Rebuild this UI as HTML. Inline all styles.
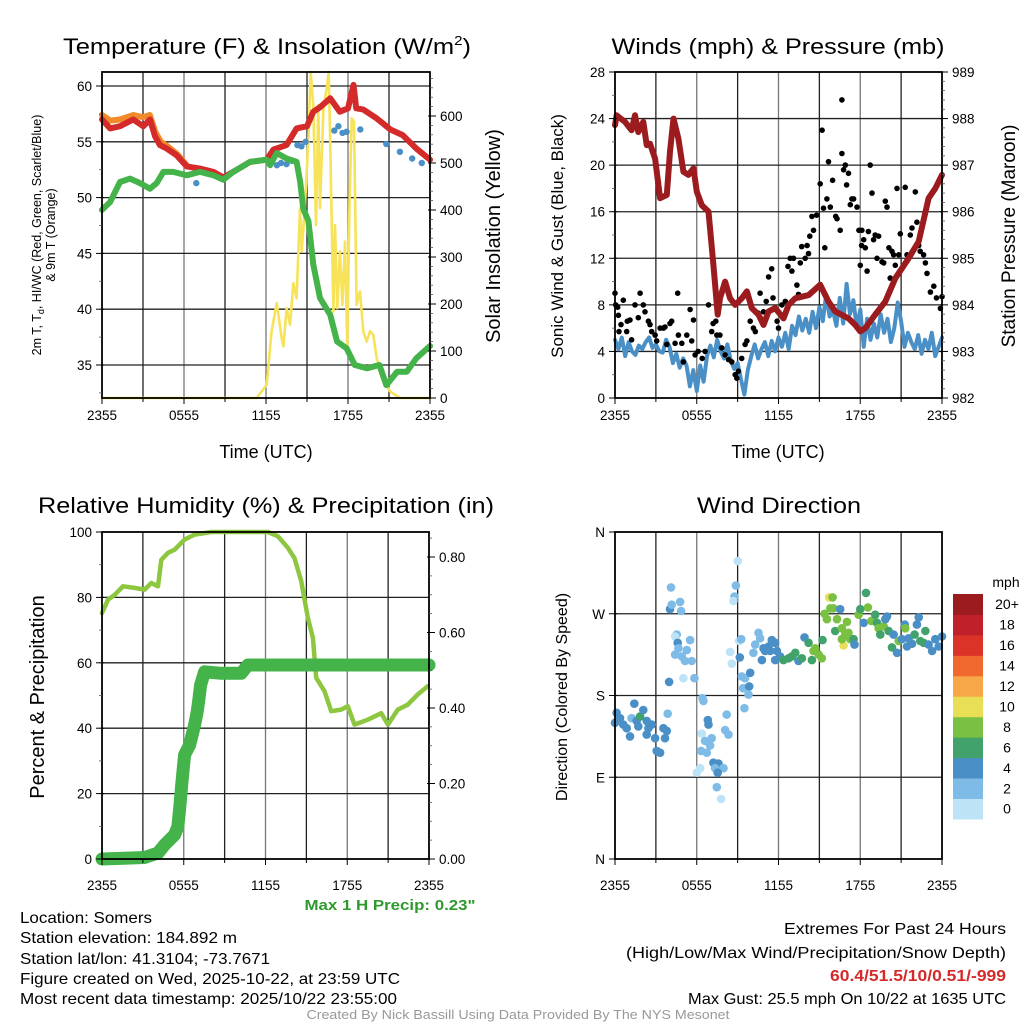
<!DOCTYPE html>
<html><head><meta charset="utf-8"><style>
html,body{margin:0;padding:0;background:#fff;width:1024px;height:1024px;overflow:hidden}
svg{display:block;font-family:"Liberation Sans",sans-serif}
</style></head><body>
<svg id="fig" width="1024" height="1024" viewBox="0 0 1024 1024">
<text x="267" y="54" font-size="22" text-anchor="middle" textLength="408" lengthAdjust="spacingAndGlyphs">Temperature (F) &amp; Insolation (W/m<tspan font-size="13" dy="-9">2</tspan><tspan dy="9">)</tspan></text>
<text x="778" y="54" font-size="22" text-anchor="middle" textLength="333" lengthAdjust="spacingAndGlyphs">Winds (mph) &amp; Pressure (mb)</text>
<text x="266" y="513" font-size="22" text-anchor="middle" textLength="456" lengthAdjust="spacingAndGlyphs">Relative Humidity (%) &amp; Precipitation (in)</text>
<text x="779" y="513" font-size="22" text-anchor="middle" textLength="164" lengthAdjust="spacingAndGlyphs">Wind Direction</text>

<text x="266" y="458" font-size="18" text-anchor="middle">Time (UTC)</text>
<text x="778" y="458" font-size="18" text-anchor="middle">Time (UTC)</text>

<g transform="translate(41,235) rotate(-90)"><text x="0" y="0" font-size="12.5" text-anchor="middle">2m T, T<tspan font-size="9" dy="3">d</tspan><tspan dy="-3">, HI/WC (Red, Green, Scarlet/Blue)</tspan></text><text x="0" y="14" font-size="12.5" text-anchor="middle">&amp; 9m T (Orange)</text></g>
<text transform="translate(500,236) rotate(-90)" font-size="20" text-anchor="middle">Solar Insolation (Yellow)</text>
<text transform="translate(563,236) rotate(-90)" font-size="17" text-anchor="middle">Sonic Wind &amp; Gust (Blue, Black)</text>
<text transform="translate(1015,236) rotate(-90)" font-size="19" text-anchor="middle">Station Pressure (Maroon)</text>
<text transform="translate(44,697) rotate(-90)" font-size="20" text-anchor="middle">Percent &amp; Precipitation</text>
<text transform="translate(567,697) rotate(-90)" font-size="16" text-anchor="middle">Direction (Colored By Speed)</text>

<text x="390" y="910" font-size="15" font-weight="bold" fill="#2e9a2e" text-anchor="middle" textLength="171" lengthAdjust="spacingAndGlyphs">Max 1 H Precip: 0.23"</text>
<g font-size="16">
<text x="20" y="923" textLength="132" lengthAdjust="spacingAndGlyphs">Location: Somers</text>
<text x="20" y="943" textLength="217" lengthAdjust="spacingAndGlyphs">Station elevation: 184.892 m</text>
<text x="20" y="964" textLength="250" lengthAdjust="spacingAndGlyphs">Station lat/lon: 41.3104; -73.7671</text>
<text x="20" y="984" textLength="380" lengthAdjust="spacingAndGlyphs">Figure created on Wed, 2025-10-22, at 23:59 UTC</text>
<text x="20" y="1004" textLength="377" lengthAdjust="spacingAndGlyphs">Most recent data timestamp: 2025/10/22 23:55:00</text>
</g>
<g font-size="16" text-anchor="end">
<text x="1006" y="934" textLength="222" lengthAdjust="spacingAndGlyphs">Extremes For Past 24 Hours</text>
<text x="1006" y="958" textLength="380" lengthAdjust="spacingAndGlyphs">(High/Low/Max Wind/Precipitation/Snow Depth)</text>
<text x="1006" y="981" font-weight="bold" fill="#d42a2a" textLength="176" lengthAdjust="spacingAndGlyphs">60.4/51.5/10/0.51/-999</text>
<text x="1006" y="1004" textLength="318" lengthAdjust="spacingAndGlyphs">Max Gust: 25.5 mph On 10/22 at 1635 UTC</text>
</g>
<text x="518" y="1019" font-size="12.5" fill="#999" text-anchor="middle" textLength="423" lengthAdjust="spacingAndGlyphs">Created By Nick Bassill Using Data Provided By The NYS Mesonet</text>
</svg>
<script>
// ---------- data ----------
const timeTicks = ["2355","0555","1155","1755","2355"];
const tempHours = [0,0.59,1.32,2.29,3.02,3.51,3.88,4.24,4.73,5.46,6.2,7.17,8.15,8.88,9.6,10.83,12.05,12.54,13.5,14.24,15,15.46,15.95,16.7,17.4,18.0,18.4,18.6,19.1,20.1,21.1,22.0,23.0,24];
const tempVals = [57.0,56.2,56.4,57.0,56.4,57.0,55.5,54.7,54.4,53.8,52.8,52.6,52.3,51.8,52.3,53.2,53.4,54.3,54.7,56.2,56.4,57.7,58.1,58.9,57.7,58.0,60.1,58.0,57.9,57.1,56.1,55.6,54.4,53.4];
const orangeHours = [0,0.6,1.3,2.3,3.0,3.5,3.9,4.3,4.8,5.5,6.2];
const orangeVals = [57.4,56.9,57.0,57.4,57.2,57.4,55.9,55.0,54.6,53.9,52.9];
const dewHours = [0,0.59,1.32,2.05,2.78,3.51,4.0,4.49,5.22,6.2,7.17,8.15,8.88,9.6,10.83,12.05,12.3,12.78,13.5,14.24,14.5,14.73,15.1,15.46,15.95,16.7,17.2,17.9,18.5,19.4,20.3,20.8,21.6,22.3,23.0,24];
const dewVals = [48.9,49.6,51.4,51.7,51.3,50.8,51.3,52.3,52.3,52.0,52.3,52.0,51.6,52.3,53.2,53.4,52.9,54.0,53.5,53.2,51.4,49.0,47.9,44.0,41.0,39.5,37.1,36.5,35.0,34.7,35.0,33.2,34.4,34.4,35.6,36.7];
const wcHours = [6.9,12.8,13.1,13.5,13.9,14.3,14.6,14.9,17.0,17.3,17.6,17.9,18.9,20.8,21.8,22.7,23.4];
const wcVals = [51.3,52.9,53.1,53.0,53.3,54.7,54.6,55.0,56.0,56.4,55.8,55.9,56.1,54.8,54.1,53.5,53.1];
const solarHours = [0,11.32,12.05,12.41,12.78,13.15,13.27,13.51,13.76,14.0,14.24,14.49,14.61,14.85,15.1,15.27,15.46,15.66,15.83,15.95,16.2,16.44,16.59,16.68,16.93,17.05,17.22,17.41,17.59,17.78,17.95,18.1,18.27,18.44,18.63,18.88,19.12,19.37,19.61,19.85,20.1,20.59,21.07,21.8,24];
const solarVals = [0,0,28,142,202,127,110,191,156,244,212,404,312,411,552,694,623,368,623,404,616,659,694,566,184,368,191,312,198,333,106,404,595,588,198,227,142,120,142,134,85,42,14,0,0];

const presHours = [0,0.12,0.73,1.22,1.47,1.71,2.08,2.33,2.57,2.94,3.31,3.8,4.04,4.29,4.65,5.02,5.39,5.76,6.0,6.37,6.86,7.22,7.54,7.71,8.08,8.45,8.82,9.31,9.68,10.04,10.53,10.9,11.27,11.76,12.37,12.74,13.23,14.21,15.06,15.67,16.16,17.14,17.63,18.0,18.37,19.1,19.84,20.57,21.55,22.29,23.02,23.51,24];
const presVals = [987.86,988.07,987.93,987.75,988.07,987.71,987.93,987.43,987.46,987.14,986.29,986.36,987.29,988.0,987.57,986.86,986.79,986.93,986.43,986.14,986.0,984.86,983.79,984.14,984.5,984.14,984.0,984.14,984.29,983.93,983.79,983.57,983.86,983.93,983.71,984.0,984.14,984.21,984.43,984.07,983.86,983.71,983.57,983.43,983.5,983.79,984.07,984.57,985.0,985.36,986.29,986.5,986.79];
const sonicVals = [5.0,4.2,5.2,3.6,4.8,4.0,3.7,4.5,4.2,4.8,5.2,4.3,4.6,4.0,3.9,5.0,
 4.4,3.0,3.8,2.6,3.4,2.8,1.0,2.4,0.6,2.8,1.4,3.6,
 4.5,3.5,5.0,4.0,3.4,4.6,3.2,2.5,3.0,1.6,0.3,2.4,
 3.6,4.6,3.4,4.2,4.8,3.6,4.9,4.0,5.2,4.4,5.6,4.2,
 6.2,5.4,7.0,5.8,6.8,5.6,7.4,6.0,7.8,6.6,8.9,7.0,
 7.5,6.2,8.6,6.4,9.8,7.2,8.4,6.0,7.6,4.4,6.8,5.0,
 6.4,5.2,7.2,5.6,6.8,4.8,6.0,8.2,6.6,4.4,5.6,4.8,
 4.2,5.4,3.8,5.0,4.2,5.6,3.6,4.4,5.2];
const sonicStep = 0.25;
const gustHours = [0,0.05,0.2,0.44,0.61,0.25,0.29,0.86,0.9,1.1,1.22,1.47,1.71,1.84,2.08,2.2,2.45,2.57,2.69,2.94,3.06,3.31,3.55,3.67,3.8,4.04,4.16,4.41,4.6,4.65,4.9,5.02,5.27,5.51,5.63,5.76,5.88,6.1,6.4,6.61,6.86,7.1,7.2,7.4,7.47,7.7,7.84,8.08,8.33,8.57,8.82,8.94,9.06,9.3,9.55,9.68,9.92,10.16,10.3,10.5,10.65,10.9,11.1,11.27,11.5,11.6,11.9,12.0,12.25,12.5,12.7,12.86,12.98,13.1,13.35,13.47,13.6,13.7,13.96,14.1,14.2,14.3,14.45,14.57,14.8,15.06,15.2,15.3,15.4,15.55,15.67,15.8,15.97,16.2,16.29,16.53,16.65,16.78,16.9,16.65,17.0,17.14,17.27,17.39,17.51,17.76,17.9,18.0,18.1,18.12,18.25,18.37,18.5,18.6,18.73,18.86,18.98,19.1,19.23,19.35,19.6,19.72,19.84,19.96,20.1,20.2,20.33,20.45,20.57,20.7,20.82,20.94,21.06,21.3,21.43,21.67,21.8,22.04,22.16,22.29,22.4,22.65,22.78,22.9,23.15,23.4,23.6,23.88,24];
const gustVals = [9.0,8.0,7.8,6.3,8.4,7.1,5.7,5.7,6.6,6.7,5.0,8.0,6.9,9.0,8.0,7.4,6.6,6.3,5.7,5.4,4.9,6.0,6.0,6.1,4.6,6.4,6.6,4.7,9.0,5.4,4.7,3.1,5.4,7.6,4.9,6.7,3.7,4.0,3.4,4.0,8.0,5.7,6.4,6.6,5.4,5.4,4.3,3.7,3.3,3.1,2.0,1.7,2.3,3.4,4.6,4.9,6.6,6.0,5.7,7.3,9.0,7.4,8.3,10.4,11.1,8.6,6.6,6.0,8.0,8.3,11.3,12.0,10.9,12.0,9.7,8.9,11.6,13.0,12.0,13.1,12.4,13.9,15.6,14.4,15.7,18.4,23.0,16.3,12.9,17.1,20.3,16.4,18.7,15.6,15.4,14.4,21.0,19.6,20.0,25.6,18.3,19.3,16.6,17.1,17.1,16.4,14.4,11.4,13.1,14.4,13.6,12.9,10.9,14.3,20.0,17.6,13.6,14.0,12.0,13.9,11.7,11.6,16.9,16.4,12.9,10.3,12.6,12.3,11.4,18.0,12.3,14.1,11.1,18.1,12.3,14.0,14.6,17.7,15.1,13.1,12.6,12.3,11.6,10.7,9.1,9.6,8.6,7.7,8.7];

const rhHours = [0,0.44,0.93,1.54,2.4,3.13,3.62,4.11,4.35,4.84,5.33,6.06,6.8,8.02,12.18,12.91,13.64,14.13,14.62,15.11,15.48,15.72,16.33,16.82,17.55,18.04,18.53,19.51,20.49,20.98,21.71,22.44,23.17,23.9];
const rhVals = [75.2,79.3,80.8,83.4,82.9,82.4,84.4,83.4,91.5,93.6,94.6,97.7,99.2,100,100,98.7,95.2,92.0,85.0,73.7,67.6,55.4,51.3,45.2,45.7,46.7,41.1,42.6,44.6,41.1,45.7,47.2,50.3,52.8];
const precipHours = [0,3.13,4.11,4.6,5.33,5.57,5.7,5.87,6.06,6.43,6.8,6.99,7.09,7.24,7.53,8.75,10.22,10.71,24];
const precipVals = [0,0.004,0.016,0.038,0.064,0.086,0.135,0.205,0.276,0.302,0.355,0.39,0.417,0.461,0.496,0.492,0.492,0.514,0.514];

const dirHours = [0,0.12,0.37,0.61,0.86,1.10,1.22,1.42,1.59,1.71,1.84,2.08,2.33,2.45,2.33,2.69,2.94,3.06,3.31,3.55,3.67,3.80,3.87,3.97,4.04,4.16,4.11,4.78,4.85,4.53,4.41,4.60,4.65,4.41,4.90,5.14,5.51,5.27,5.63,5.02,5.83,6.42,6.49,6.00,6.25,6.37,6.32,6.61,6.98,7.10,6.74,6.81,6.86,7.22,7.59,7.35,7.96,7.54,7.47,7.79,8.20,8.08,8.33,8.45,8.57,9.01,8.87,8.77,8.69,9.11,9.26,9.16,9.31,9.55,9.40,9.85,9.92,9.80,9.50,10.16,10.29,10.53,10.65,10.90,11.02,10.78,11.27,11.51,11.39,11.76,11.88,11.76,12.12,12.37,12.74,12.98,13.23,13.47,13.72,13.91,14.21,14.45,14.57,14.70,14.94,15.18,15.23,15.38,15.55,15.72,15.97,15.80,16.04,16.53,16.29,16.16,16.65,17.02,16.90,17.14,16.78,16.65,17.27,17.51,17.58,17.88,18.00,18.25,18.42,18.56,18.81,19.10,19.23,19.35,19.47,19.72,19.84,19.96,20.08,20.33,20.45,20.70,20.82,21.06,21.26,21.31,21.43,21.55,21.80,21.99,22.16,22.29,22.41,22.65,22.78,23.02,23.27,23.51,23.76,24.0];
const dirDeg = [150,161,155,148,144,135,155,171,152,146,157,164,152,144,137,148,133,119,117,144,133,141,160,195,275,280,299,283,273,247,245,238,232,225,223,218,241,230,218,199,199,177,174,95,100,138,119,130,125,133,117,153,148,106,105,100,100,95,79,66,159,142,137,228,215,328,301,289,284,240,242,222,201,199,188,190,205,181,166,227,236,249,243,232,229,219,234,241,229,238,229,219,223,219,221,223,227,218,221,244,238,219,229,232,225,221,241,270,264,288,288,276,276,275,264,251,254,261,247,249,235,242,242,242,236,269,275,260,293,277,262,269,260,254,247,256,264,267,251,233,247,227,240,242,258,254,234,243,237,247,258,266,240,238,251,236,229,242,234,245];
const dirSpeed = [4,4,4,4,4,4,2,4,4,4,6,4,4,4,4,4,4,4,4,4,4,4,2,4,4,2,2,2,2,2,0,4,2,2,2,2,2,2,2,0,2,2,2,0,0,0,2,2,2,2,2,4,4,4,4,2,2,4,2,0,2,2,2,0,0,0,2,2,0,0,2,4,2,2,2,4,4,2,2,2,2,2,2,4,4,4,4,4,4,4,4,4,4,6,6,6,6,4,6,4,6,6,8,8,8,8,6,8,8,10,8,8,8,4,8,6,8,8,8,8,10,8,8,6,4,8,6,4,6,8,8,6,6,8,6,8,4,4,6,6,4,4,8,4,4,8,4,4,4,6,4,4,6,6,6,4,4,4,4,4];
const speedLabels = ["0","2","4","6","8","10","12","14","16","18","20+"];
const speedColors = ["#bde3f7","#7fbbe7","#4a8fc6","#42a26b","#7ac143","#e8df57","#f7a748","#ef6a2c","#dc3328","#c0202a","#9b1b1f"];

// ---------- helpers ----------
const NS = "http://www.w3.org/2000/svg";
const svg = document.getElementById('fig');
function mk(tag, attrs, parent){
  const e = document.createElementNS(NS, tag);
  for (const k in attrs) e.setAttribute(k, attrs[k]);
  (parent||svg).appendChild(e);
  return e;
}
function linScale(d0,d1,r0,r1){ return v => r0 + (v-d0)/(d1-d0)*(r1-r0); }

function panel(name, x0, x1, y0, y1){
  const g = mk('g', {});
  
  
  return {g, x0, x1, y0, y1, xs: linScale(0,24,x0,x1)};
}
function grid(p, yPixels){
  const gg = mk('g', {}, p.g);
  
  
  for (let h=3; h<24; h+=3){
    const x = p.xs(h);
    mk('line', {x1:x, x2:x, y1:p.y0, y2:p.y1, stroke: h%6===0?'#777':'#222', 'stroke-width':1.3}, gg);
  }
  yPixels.forEach(y => mk('line', {x1:p.x0, x2:p.x1, y1:y, y2:y, stroke:'#222', 'stroke-width':1.3}, gg));
}
function frame(p){
  const r = mk('rect', {x:p.x0, y:p.y0, width:p.x1-p.x0, height:p.y1-p.y0, fill:'none', stroke:'#000', 'stroke-width':1.8}, p.g);
  
  
}
function xAxis(p, labelY){
  const gx = mk('g', {}, p.g);
  
  
  for (let h=0; h<=24; h+=3){
    const x = p.xs(h);
    mk('line', {x1:x, x2:x, y1:p.y1, y2:p.y1+(h%6===0?6:4), stroke:'#000', 'stroke-width':1}, gx);
  }
  timeTicks.forEach((t,i) => {
    const tx = mk('text', {x:p.xs(i*6), y:labelY, 'font-size':13.5, 'text-anchor':'middle'}, gx);
    tx.textContent = t;
    
    
  });
}
function yAxis(p, side, ticks, labels, scale, minorStep, lo, hi){
  const gy = mk('g', {}, p.g);
  
  
  const ax = side==='left'?p.x0:p.x1;
  const dir = side==='left'?-1:1;
  if (minorStep){
    for (let v=lo; v<=hi+1e-9; v+=minorStep){
      const y = scale(v);
      if (y < p.y0-0.5 || y > p.y1+0.5) continue;
      mk('line', {x1:ax, x2:ax+dir*3, y1:y, y2:y, stroke:'#555', 'stroke-width':0.8}, gy);
    }
  }
  ticks.forEach((v,i) => {
    const y = scale(v);
    mk('line', {x1:ax-dir*2, x2:ax+dir*6, y1:y, y2:y, stroke:'#000', 'stroke-width':1}, gy);
    const t = mk('text', {x:ax+dir*10, y:y+5, 'font-size':13.5, 'text-anchor':side==='left'?'end':'start'}, gy);
    t.textContent = labels[i];
    
    
  });
}
function polyline(p, hours, vals, ys, color, width, name){
  let d = '';
  hours.forEach((h,i) => { d += (i?'L':'M') + p.xs(h).toFixed(1) + ',' + ys(vals[i]).toFixed(1); });
  const path = mk('path', {d, fill:'none', stroke:color, 'stroke-width':width, 'stroke-linejoin':'round', 'stroke-linecap':'round'}, p.g);
  
  
  return path;
}
function dots(p, hours, vals, ys, color, r, name){
  const gd = mk('g', {fill:color}, p.g);
  
  
  hours.forEach((h,i) => {
    const c = mk('circle', {cx:p.xs(h).toFixed(1), cy:ys(vals[i]).toFixed(1), r}, gd);
    
    
  });
}

// ---------- Panel 1 ----------
const p1 = panel('temperature-panel', 102, 430, 72, 398);
const t1 = linScale(35, 60, 365, 86);
const s1 = linScale(0, 600, 398, 116);
grid(p1, [60,55,50,45,40,35].map(t1));
polyline(p1, solarHours, solarVals, s1, '#f7e35a', 2.6, 'solar-insolation-line');
dots(p1, wcHours, wcVals, t1, '#4a90c6', 3.2, 'heat-index-wind-chill-points');
polyline(p1, orangeHours, orangeVals, t1, '#f08a2a', 6, 'temp-9m-line');
polyline(p1, tempHours, tempVals, t1, '#d42a2a', 6, 'temp-2m-line');
polyline(p1, dewHours, dewVals, t1, '#44b34a', 6, 'dewpoint-line');
frame(p1);
xAxis(p1, 420);
yAxis(p1, 'left', [35,40,45,50,55,60], ['35','40','45','50','55','60'], t1, 2.5, 32.5, 60);
yAxis(p1, 'right', [0,100,200,300,400,500,600], ['0','100','200','300','400','500','600'], s1, 20, 0, 680);

// ---------- Panel 2 ----------
const p2 = panel('winds-panel', 615, 942, 72, 398);
const w2 = linScale(0, 28, 398, 72);
const pr2 = linScale(982, 989, 398, 72);
grid(p2, [4,8,12,16,20,24].map(w2));
polyline(p2, sonicVals.map((v,i)=>i*sonicStep), sonicVals, w2, '#4a90c6', 4, 'sonic-wind-line');
dots(p2, gustHours, gustVals, w2, '#000', 2.8, 'gust-points');
polyline(p2, presHours, presVals, pr2, '#9b1b1f', 6, 'pressure-line');
frame(p2);
xAxis(p2, 420);
yAxis(p2, 'left', [0,4,8,12,16,20,24,28], ['0','4','8','12','16','20','24','28'], w2, 2, 0, 28);
yAxis(p2, 'right', [982,983,984,985,986,987,988,989], ['982','983','984','985','986','987','988','989'], pr2, 0.2, 982, 989);

// ---------- Panel 3 ----------
const p3 = panel('humidity-panel', 102, 429, 532, 859);
const rh3 = linScale(0, 100, 859, 532);
const pc3 = linScale(0, 0.8, 859, 557);
grid(p3, [20,40,60,80].map(rh3));
polyline(p3, rhHours, rhVals, rh3, '#8dc63f', 4.5, 'relative-humidity-line');
polyline(p3, precipHours, precipVals, pc3, '#44b34a', 13, 'precipitation-line');
frame(p3);
xAxis(p3, 890);
yAxis(p3, 'left', [0,20,40,60,80,100], ['0','20','40','60','80','100'], rh3, 10, 0, 100);
yAxis(p3, 'right', [0,0.2,0.4,0.6,0.8], ['0.00','0.20','0.40','0.60','0.80'], pc3, 0.05, 0, 0.85);

// ---------- Panel 4 ----------
const p4 = panel('direction-panel', 615, 942, 532, 859);
const d4 = linScale(0, 360, 859, 532);
grid(p4, [90,180,270].map(d4));
const gdir = mk('g', {}, p4.g);


dirHours.forEach((h,i) => {
  const c = mk('circle', {cx:p4.xs(h).toFixed(1), cy:d4(dirDeg[i]).toFixed(1), r:4.3, fill:speedColors[Math.min(10, Math.round(dirSpeed[i]/2))]}, gdir);
  
  
});
frame(p4);
xAxis(p4, 890);
yAxis(p4, 'left', [0,90,180,270,360], ['N','E','S','W','N'], d4, 0, 0, 0);

// colorbar
const cb = mk('g', {});


const cbTop = 594, cbH = 20.45;
const unit = mk('text', {x:1006, y:587, 'font-size':14, 'text-anchor':'middle'}, cb);
unit.textContent = 'mph';


speedLabels.forEach((lab,i) => {
  const k = speedLabels.length-1-i;
  const y = cbTop + k*cbH;
  const r = mk('rect', {x:953, y:y, width:30, height:cbH+0.5, fill:speedColors[i]}, cb);
  
  
  const t = mk('text', {x:1007, y:y+cbH/2+5, 'font-size':14, 'text-anchor':'middle'}, cb);
  t.textContent = lab;
  
  
});
</script>
</body></html>
